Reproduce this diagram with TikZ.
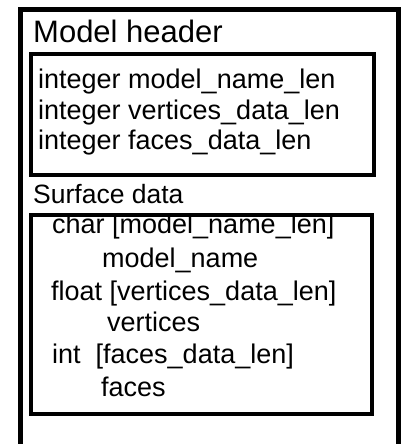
\documentclass[tikz,border=0pt]{standalone}
\usepackage{fontspec}
\setmainfont{Liberation Sans}
\begin{document}
\begin{tikzpicture}[x=1pt,y=-1pt,
  txt/.style={anchor=base west,inner sep=0pt,font=\fontsize{27}{30}\selectfont},
  stxt/.style={anchor=base west,inner sep=0pt,font=\fontsize{26.5}{30}\selectfont},
  title/.style={anchor=base west,inner sep=0pt,font=\fontsize{31}{36}\selectfont},
  box/.style={draw=black,line width=4pt}]
\useasboundingbox (0,0) rectangle (401,444);
\begin{scope}
\clip (0,0) rectangle (401,444);
\draw[line width=5pt] (20,460) -- (20,10) -- (398,10) -- (398,460);
\end{scope}
\draw[box] (31,54) rectangle (373.5,175);
\draw[box] (31,215) rectangle (372,414);
\node[title] (mh) at (33,43) {Model header};
\node[txt] (h1) at (38,88) {integer model\_name\_len};
\node[txt] (h2) at (38,119) {integer vertices\_data\_len};
\node[txt] (h3) at (38,149) {integer faces\_data\_len};
\node[stxt] (sd) at (33,203) {Surface data};
\node[txt] (s1) at (52,233) {char [model\_name\_len]};
\node[txt] (s2) at (102,267) {model\_name};
\node[txt] (s3) at (51,300) {float [vertices\_data\_len]};
\node[txt] (s4) at (107,331) {vertices};
\node[txt] (s5) at (52,363) {int\ \ [faces\_data\_len]};
\node[txt] (s6) at (101,396) {faces};
\end{tikzpicture}
\end{document}
